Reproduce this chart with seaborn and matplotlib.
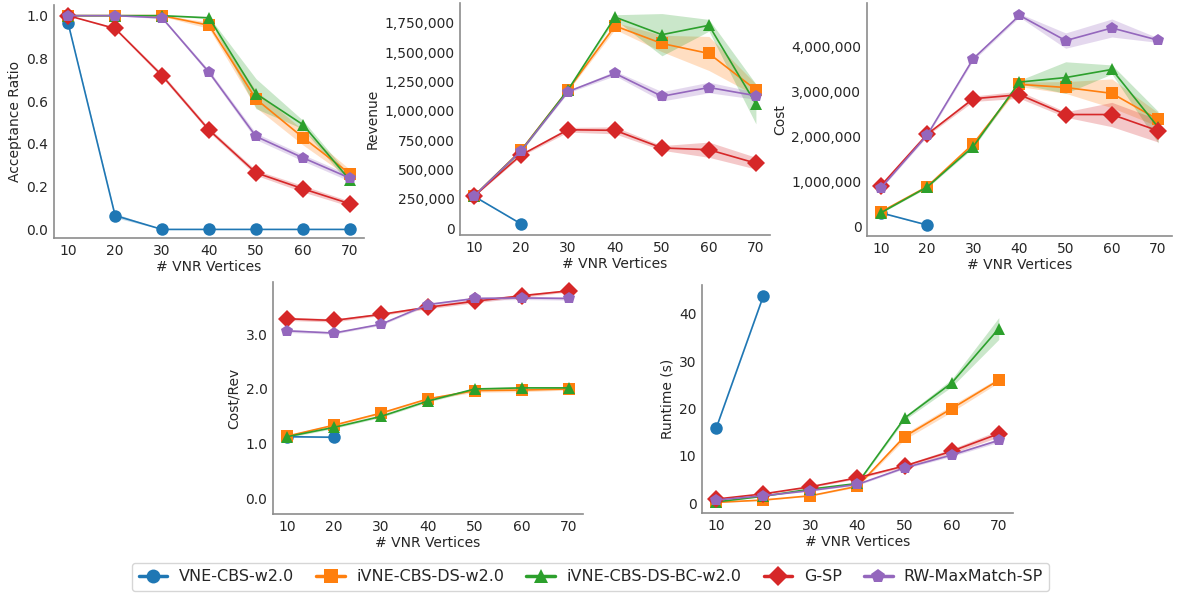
import numpy as np
import pandas as pd
import matplotlib
matplotlib.use("Agg")
import matplotlib.pyplot as plt
import seaborn as sns
from matplotlib.lines import Line2D
from matplotlib.ticker import MultipleLocator, StrMethodFormatter

nan = np.nan

#**************************************#
            # data
#**************************************#
vertices = [10, 20, 30, 40, 50, 60, 70]
algos = ["VNE-CBS-w2.0", "iVNE-CBS-DS-w2.0", "iVNE-CBS-DS-BC-w2.0", "G-SP", "RW-MaxMatch-SP"]
markers = ["o", "s", "^", "D", "p"]

# acceptance ratio (mean, band half width)
acc_vne = [0.965, 0.065, 0.0, 0.0, 0.0, 0.0, 0.0]
acc_ivne = [1.0, 1.0, 1.0, 0.955, 0.61, 0.43, 0.26]
acc_bc = [1.0, 1.0, 1.0, 0.99, 0.635, 0.49, 0.23]
acc_gsp = [1.0, 0.94, 0.72, 0.465, 0.265, 0.19, 0.12]
acc_rw = [1.0, 1.0, 0.99, 0.735, 0.435, 0.335, 0.24]
acc_vne_err = [0.005, 0.01, 0.0, 0.0, 0.0, 0.0, 0.0]
acc_ivne_err = [0.0, 0.0, 0.003, 0.015, 0.04, 0.035, 0.02]
acc_bc_err = [0.0, 0.0, 0.0, 0.005, 0.07, 0.02, 0.02]
acc_gsp_err = [0.0, 0.005, 0.01, 0.01, 0.012, 0.015, 0.012]
acc_rw_err = [0.0, 0.0, 0.005, 0.01, 0.015, 0.015, 0.015]

# revenue
rev_vne = [273000, 38000, nan, nan, nan, nan, nan]
rev_ivne = [275000, 665000, 1180000, 1725000, 1575000, 1490000, 1180000]
rev_bc = [275000, 660000, 1180000, 1800000, 1650000, 1730000, 1060000]
rev_gsp = [275000, 625000, 840000, 835000, 685000, 670000, 555000]
rev_rw = [275000, 660000, 1165000, 1320000, 1125000, 1200000, 1130000]
rev_vne_err = [5000, 5000, nan, nan, nan, nan, nan]
rev_ivne_err = [5000, 10000, 10000, 30000, 70000, 145000, 50000]
rev_bc_err = [5000, 10000, 10000, 20000, 180000, 50000, 170000]
rev_gsp_err = [5000, 10000, 20000, 30000, 20000, 65000, 50000]
rev_rw_err = [5000, 10000, 10000, 20000, 40000, 45000, 30000]

# cost
cost_vne = [300000, 30000, nan, nan, nan, nan, nan]
cost_ivne = [320000, 880000, 1830000, 3150000, 3080000, 2950000, 2370000]
cost_bc = [300000, 870000, 1770000, 3200000, 3300000, 3480000, 2200000]
cost_gsp = [900000, 2040000, 2830000, 2920000, 2480000, 2480000, 2120000]
cost_rw = [850000, 2020000, 3720000, 4680000, 4120000, 4400000, 4130000]
cost_vne_err = [10000, 10000, nan, nan, nan, nan, nan]
cost_ivne_err = [10000, 20000, 30000, 50000, 130000, 320000, 150000]
cost_bc_err = [10000, 20000, 30000, 40000, 350000, 100000, 350000]
cost_gsp_err = [20000, 30000, 60000, 80000, 60000, 270000, 250000]
cost_rw_err = [20000, 30000, 40000, 40000, 170000, 200000, 50000]

# cost / revenue
cr_vne = [1.13, 1.12, nan, nan, nan, nan, nan]
cr_ivne = [1.14, 1.34, 1.56, 1.82, 1.97, 1.98, 2.0]
cr_bc = [1.13, 1.30, 1.50, 1.78, 2.0, 2.02, 2.02]
cr_gsp = [3.28, 3.25, 3.36, 3.49, 3.60, 3.70, 3.79]
cr_rw = [3.06, 3.02, 3.18, 3.54, 3.65, 3.66, 3.65]
cr_vne_err = [0.01, 0.01, nan, nan, nan, nan, nan]
cr_ivne_err = [0.02, 0.02, 0.02, 0.02, 0.03, 0.03, 0.02]
cr_bc_err = [0.02, 0.02, 0.02, 0.02, 0.02, 0.02, 0.02]
cr_gsp_err = [0.03, 0.03, 0.02, 0.03, 0.03, 0.03, 0.02]
cr_rw_err = [0.03, 0.02, 0.02, 0.02, 0.03, 0.03, 0.03]

# runtime (s)
rt_vne = [15.8, 43.7, nan, nan, nan, nan, nan]
rt_ivne = [0.2, 0.7, 1.6, 3.6, 14.1, 20.0, 26.0]
rt_bc = [0.3, 1.5, 3.0, 4.2, 18.0, 25.4, 36.9]
rt_gsp = [0.9, 2.0, 3.5, 5.4, 7.9, 11.0, 14.7]
rt_rw = [0.7, 1.6, 2.7, 4.0, 7.5, 10.2, 13.3]
rt_vne_err = [0.1, 0.2, nan, nan, nan, nan, nan]
rt_ivne_err = [0.05, 0.1, 0.1, 0.2, 0.6, 0.7, 0.5]
rt_bc_err = [0.05, 0.1, 0.1, 0.2, 0.4, 0.8, 2.3]
rt_gsp_err = [0.05, 0.1, 0.2, 0.2, 0.3, 0.5, 0.7]
rt_rw_err = [0.05, 0.1, 0.1, 0.2, 0.2, 0.3, 0.4]


def to_long(series, errs):
    rows = []
    for name, vals, err in zip(algos, series, errs):
        for x, v, e in zip(vertices, vals, err):
            rows.append({"x": x, "y": v, "lo": v - e, "hi": v + e, "algo": name})
    return pd.DataFrame(rows)


sns.set_style("white")
plt.rcParams["font.family"] = ["DejaVu Sans"]
plt.rcParams["font.size"] = 10
plt.rcParams["axes.edgecolor"] = "#8c8c8c"
colors = sns.color_palette("tab10", 5)


def draw(ax, df, ylabel):
    sns.lineplot(data=df.dropna(subset=["y"]), x="x", y="y", hue="algo", style="algo",
                 hue_order=algos, style_order=algos, palette=colors,
                 markers=dict(zip(algos, markers)), dashes=False,
                 markersize=9, markeredgewidth=0, linewidth=1.2,
                 errorbar=None, legend=False, ax=ax)
    for name, c in zip(algos, colors):
        d = df[df.algo == name].dropna()
        ax.fill_between(d.x, d.lo, d.hi, color=c, alpha=0.25, linewidth=0)
    ax.set_xticks(vertices)
    ax.set_xlabel("# VNR Vertices", fontsize=10, labelpad=2)
    ax.set_ylabel(ylabel, fontsize=10, labelpad=3)
    ax.tick_params(labelsize=10, length=0, pad=4)
    sns.despine(ax=ax)
    for s in ["left", "bottom"]:
        ax.spines[s].set_linewidth(1.2)


fig = plt.figure(figsize=(11.77, 5.93), dpi=100)
ax1 = fig.add_axes([0.0459, 0.5987, 0.2634, 0.3929])
ax2 = fig.add_axes([0.3908, 0.6037, 0.2634, 0.3912])
ax3 = fig.add_axes([0.7366, 0.602, 0.2591, 0.393])
ax4 = fig.add_axes([0.2319, 0.1332, 0.2634, 0.3912])
ax5 = fig.add_axes([0.5964, 0.1349, 0.2642, 0.3845])

draw(ax1, to_long([acc_vne, acc_ivne, acc_bc, acc_gsp, acc_rw],
                  [acc_vne_err, acc_ivne_err, acc_bc_err, acc_gsp_err, acc_rw_err]), "Acceptance Ratio")
ax1.set_ylim(-0.04, 1.05)
ax1.yaxis.set_major_locator(MultipleLocator(0.2))

draw(ax2, to_long([rev_vne, rev_ivne, rev_bc, rev_gsp, rev_rw],
                  [rev_vne_err, rev_ivne_err, rev_bc_err, rev_gsp_err, rev_rw_err]), "Revenue")
ax2.yaxis.set_major_locator(MultipleLocator(250000))
ax2.yaxis.set_major_formatter(StrMethodFormatter("{x:,.0f}"))

draw(ax3, to_long([cost_vne, cost_ivne, cost_bc, cost_gsp, cost_rw],
                  [cost_vne_err, cost_ivne_err, cost_bc_err, cost_gsp_err, cost_rw_err]), "Cost")
ax3.yaxis.set_major_locator(MultipleLocator(1000000))
ax3.yaxis.set_major_formatter(StrMethodFormatter("{x:,.0f}"))

draw(ax4, to_long([cr_vne, cr_ivne, cr_bc, cr_gsp, cr_rw],
                  [cr_vne_err, cr_ivne_err, cr_bc_err, cr_gsp_err, cr_rw_err]), "Cost/Rev")
ax4.set_ylim(-0.28, 3.95)
ax4.yaxis.set_major_locator(MultipleLocator(1.0))
ax4.yaxis.set_major_formatter(StrMethodFormatter("{x:.1f}"))

draw(ax5, to_long([rt_vne, rt_ivne, rt_bc, rt_gsp, rt_rw],
                  [rt_vne_err, rt_ivne_err, rt_bc_err, rt_gsp_err, rt_rw_err]), "Runtime (s)")
ax5.yaxis.set_major_locator(MultipleLocator(10))

handles = [Line2D([], [], color=c, marker=m, linewidth=2.5, markersize=10, markeredgewidth=0)
           for c, m in zip(colors, markers)]
fig.legend(handles, algos, loc="center", bbox_to_anchor=(0.502, 0.027), ncol=5,
           fontsize=11.5, frameon=True, columnspacing=1.4, handlelength=1.8, handletextpad=0.7)

plt.savefig("out.png", dpi=100)
plt.close()
